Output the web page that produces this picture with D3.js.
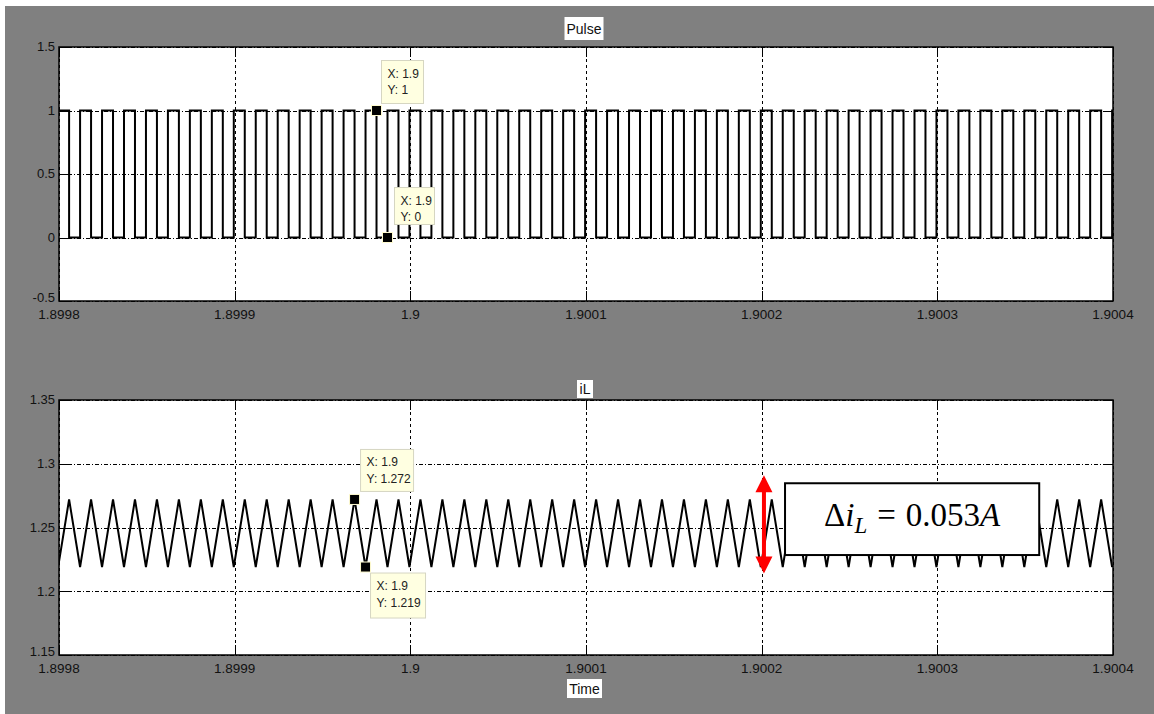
<!DOCTYPE html>
<html>
<head>
<meta charset="utf-8">
<script src="https://cdn.jsdelivr.net/npm/d3@7"></script>
<style>
  html, body { margin: 0; padding: 0; background: #fff; }
  svg { display: block; }
</style>
</head>
<body>
<div id="chart"></div>
<script>
// ── Data (times in µs after 1.8998 s) ──
const T0 = 1.8998;
const xTicks      = [1.8998, 1.8999, 1.9, 1.9001, 1.9002, 1.9003, 1.9004];
const xTickLabels = ["1.8998", "1.8999", "1.9", "1.9001", "1.9002", "1.9003", "1.9004"];
const pulseTicks  = [-0.5, 0, 0.5, 1, 1.5];
const pulseLabels = ["-0.5", "0", "0.5", "1", "1.5"];
const iLTicks     = [1.15, 1.2, 1.25, 1.3, 1.35];
const iLLabels    = ["1.15", "1.2", "1.25", "1.3", "1.35"];

// switch-on instants (pulse rises, inductor current at its valley)
const riseUs = [-0.5, 12, 24.5, 37, 49.5, 62, 74.5, 87, 99.5, 112, 124.5, 137, 149.5,
  162, 174.5, 187, 199.5, 212, 224.5, 237, 249.5, 262, 274.5, 287, 299.5, 312, 324.5,
  337, 349.5, 362, 374.5, 387, 399.5, 412, 424.5, 437, 449.5, 462, 474.5, 487, 499.5,
  512, 524.5, 537, 549.5, 562, 574.5, 587, 599.5];
// switch-off instants (pulse falls, inductor current at its peak)
const fallUs = [5.75, 18.25, 30.75, 43.25, 55.75, 68.25, 80.75, 93.25, 105.75, 118.25,
  130.75, 143.25, 155.75, 168.25, 180.75, 193.25, 205.75, 218.25, 230.75, 243.25,
  255.75, 268.25, 280.75, 293.25, 305.75, 318.25, 330.75, 343.25, 355.75, 368.25,
  380.75, 393.25, 405.75, 418.25, 430.75, 443.25, 455.75, 468.25, 480.75, 493.25,
  505.75, 518.25, 530.75, 543.25, 555.75, 568.25, 580.75, 593.25];
const iLPeak   = 1.272;
const iLValley = 1.219;

// data tips: [time µs, value, text lines]
const pulseTips = [
  { t: 180.75, v: 1, lines: ["X: 1.9", "Y: 1"] },
  { t: 187,    v: 0, lines: ["X: 1.9", "Y: 0"] }
];
const iLTips = [
  { t: 168.25, v: 1.272, lines: ["X: 1.9", "Y: 1.272"] },
  { t: 174.5,  v: 1.219, lines: ["X: 1.9", "Y: 1.219"] }
];

// ripple annotation (data units)
const rippleArrow = { t: 401.3, top: 1.291, bottom: 1.214 };
const rippleBox   = { t0: 413.3, t1: 558, top: 1.2847, bottom: 1.2284 };

// ── Layout ──
const W = 1154, H = 714;
const PLOT_L = 59, PLOT_R = 1113;
const TOP1 = 47, BOT1 = 301;
const TOP2 = 400, BOT2 = 655;
const TICK = 10;
const FONT = "'Liberation Sans', Arial, sans-serif";

const svg = d3.select("#chart").append("svg")
  .attr("width", W).attr("height", H);

svg.append("rect")
  .attr("x", 5).attr("y", 6)
  .attr("width", W - 5).attr("height", H - 6)
  .attr("fill", "#808080");

const x = d3.scaleLinear().domain([T0, 1.9004]).range([PLOT_L, PLOT_R]);
const tx = us => T0 + us * 1e-6;

const yPulse = d3.scaleLinear().domain([-0.5, 1.5]).range([BOT1, TOP1]);
const yIL    = d3.scaleLinear().domain([1.15, 1.35]).range([BOT2, TOP2]);

function drawPanel(id, y, ticks, top, bottom) {
  const g = svg.append("g").attr("class", "panel-" + id);

  g.append("rect")
    .attr("x", PLOT_L).attr("y", top)
    .attr("width", PLOT_R - PLOT_L).attr("height", bottom - top)
    .attr("fill", "#fff");

  // grid
  g.selectAll("line.vgrid")
    .data(xTicks)
    .join("line")
    .attr("x1", d => Math.round(x(d)) + 0.5).attr("x2", d => Math.round(x(d)) + 0.5)
    .attr("y1", top).attr("y2", bottom)
    .attr("stroke", "#000").attr("stroke-width", 1)
    .attr("stroke-dasharray", "3,3");

  g.selectAll("line.hgrid")
    .data(ticks)
    .join("line")
    .attr("x1", PLOT_L).attr("x2", PLOT_R)
    .attr("y1", d => Math.round(y(d)) + 0.5).attr("y2", d => Math.round(y(d)) + 0.5)
    .attr("stroke", "#000").attr("stroke-width", 1)
    .attr("stroke-dasharray", "4,2,1,2");

  return g;
}

function drawFrame(g, y, ticks, labels, top, bottom) {
  // ticks on all four sides, pointing inwards
  xTicks.forEach(d => {
    const px = Math.round(x(d)) + 0.5;
    g.append("line").attr("x1", px).attr("x2", px)
      .attr("y1", bottom).attr("y2", bottom - TICK).attr("stroke", "#000");
    g.append("line").attr("x1", px).attr("x2", px)
      .attr("y1", top).attr("y2", top + TICK).attr("stroke", "#000");
  });
  ticks.forEach(d => {
    const py = Math.round(y(d)) + 0.5;
    g.append("line").attr("x1", PLOT_L).attr("x2", PLOT_L + TICK)
      .attr("y1", py).attr("y2", py).attr("stroke", "#000");
    g.append("line").attr("x1", PLOT_R).attr("x2", PLOT_R - TICK)
      .attr("y1", py).attr("y2", py).attr("stroke", "#000");
  });

  g.append("rect")
    .attr("x", PLOT_L).attr("y", top)
    .attr("width", PLOT_R - PLOT_L).attr("height", bottom - top)
    .attr("fill", "none").attr("stroke", "#000").attr("stroke-width", 1.5);

  // lowest label sits a little higher so it clears the time labels
  g.selectAll("text.ylab")
    .data(ticks)
    .join("text")
    .attr("x", PLOT_L - 4)
    .attr("y", (d, i) => y(d) - (i === 0 ? 3 : 0))
    .attr("dy", "0.34em")
    .style("font-family", FONT).style("font-size", "13px")
    .style("fill", "#111").style("text-anchor", "end")
    .text((d, i) => labels[i]);

  g.selectAll("text.xlab")
    .data(xTicks)
    .join("text")
    .attr("x", d => x(d))
    .attr("y", bottom + 18)
    .style("font-family", FONT).style("font-size", "13.5px")
    .style("fill", "#111").style("text-anchor", "middle")
    .text((d, i) => xTickLabels[i]);
}

function boxedLabel(text, cx, top, w, h) {
  svg.append("rect")
    .attr("x", cx - w / 2).attr("y", top)
    .attr("width", w).attr("height", h)
    .attr("fill", "#fff");
  svg.append("text")
    .attr("x", cx).attr("y", top + h / 2)
    .attr("dy", "0.36em")
    .style("font-family", FONT).style("font-size", "14px")
    .style("fill", "#111").style("text-anchor", "middle")
    .text(text);
}

function dataTip(g, tip, y, dx, dy, w, h) {
  const px = x(tx(tip.t)), py = y(tip.v);
  g.append("rect")
    .attr("x", px + dx).attr("y", py + dy)
    .attr("width", w).attr("height", h)
    .attr("fill", "#ffffe1").attr("stroke", "#d6d6c2");
  tip.lines.forEach((s, i) => {
    g.append("text")
      .attr("x", px + dx + 6).attr("y", py + dy + 17 + i * 16.5)
      .style("font-family", FONT).style("font-size", "12px")
      .style("fill", "#222")
      .text(s);
  });
  g.append("rect")
    .attr("x", px - 5).attr("y", py - 5)
    .attr("width", 10).attr("height", 10)
    .attr("fill", "#000").attr("stroke", "#fffbd0").attr("stroke-width", 1);
}

// clip paths
const defs = svg.append("defs");
[["clip1", TOP1, BOT1], ["clip2", TOP2, BOT2]].forEach(([id, t, b]) => {
  defs.append("clipPath").attr("id", id)
    .append("rect").attr("x", PLOT_L).attr("y", t)
    .attr("width", PLOT_R - PLOT_L).attr("height", b - t);
});

// ── Pulse panel ──
const g1 = drawPanel("pulse", yPulse, pulseTicks, TOP1, BOT1);

const pulsePts = [];
riseUs.forEach((r, i) => {
  pulsePts.push({ t: r, v: 1 });
  if (i < fallUs.length) pulsePts.push({ t: fallUs[i], v: 0 });
});
pulsePts.push({ t: 600, v: 1 });

g1.append("path")
  .datum(pulsePts)
  .attr("clip-path", "url(#clip1)")
  .attr("fill", "none").attr("stroke", "#000").attr("stroke-width", 2)
  .attr("d", d3.line().curve(d3.curveStepAfter)
    .x(d => x(tx(d.t))).y(d => yPulse(d.v)));

drawFrame(g1, yPulse, pulseTicks, pulseLabels, TOP1, BOT1);

// ── iL panel ──
const g2 = drawPanel("il", yIL, iLTicks, TOP2, BOT2);

const iLPts = [];
riseUs.forEach((r, i) => {
  iLPts.push({ t: r, v: iLValley });
  if (i < fallUs.length) iLPts.push({ t: fallUs[i], v: iLPeak });
});

g2.append("path")
  .datum(iLPts)
  .attr("clip-path", "url(#clip2)")
  .attr("fill", "none").attr("stroke", "#000").attr("stroke-width", 2)
  .attr("stroke-linejoin", "miter")
  .attr("d", d3.line().x(d => x(tx(d.t))).y(d => yIL(d.v)));

drawFrame(g2, yIL, iLTicks, iLLabels, TOP2, BOT2);

// titles
boxedLabel("Pulse", 584, 17, 39, 23);
boxedLabel("iL", 585, 380, 16, 18);
boxedLabel("Time", 584.5, 679, 35, 19);

// data tips
const tipG = svg.append("g").attr("class", "tips");
dataTip(tipG, pulseTips[0], yPulse, 5, -50, 42, 43);
dataTip(tipG, pulseTips[1], yPulse, 7, -50, 40, 37);
dataTip(tipG, iLTips[0], yIL, 6, -50, 53, 42);
dataTip(tipG, iLTips[1], yIL, 5, 6, 55, 45);

// ── Ripple annotation ──
const ann = svg.append("g").attr("class", "ripple");
const ax = x(tx(rippleArrow.t));
const aTop = yIL(rippleArrow.top), aBot = yIL(rippleArrow.bottom);
const headH = 17, headW = 17;
ann.append("line")
  .attr("x1", ax).attr("x2", ax)
  .attr("y1", aTop + headH - 2).attr("y2", aBot - headH + 2)
  .attr("stroke", "#ff0000").attr("stroke-width", 4);
ann.append("path")
  .attr("d", `M${ax},${aTop} L${ax - headW / 2},${aTop + headH} L${ax + headW / 2},${aTop + headH} Z`)
  .attr("fill", "#ff0000");
ann.append("path")
  .attr("d", `M${ax},${aBot} L${ax - headW / 2},${aBot - headH} L${ax + headW / 2},${aBot - headH} Z`)
  .attr("fill", "#ff0000");

const bx0 = x(tx(rippleBox.t0)), bx1 = x(tx(rippleBox.t1));
const by0 = yIL(rippleBox.top), by1 = yIL(rippleBox.bottom);
ann.append("rect")
  .attr("x", bx0).attr("y", by0)
  .attr("width", bx1 - bx0).attr("height", by1 - by0)
  .attr("fill", "#fff").attr("stroke", "#000").attr("stroke-width", 2);

const eq = ann.append("text")
  .attr("x", (bx0 + bx1) / 2)
  .attr("y", by0 + 43)
  .style("font-family", "'Liberation Serif', 'Times New Roman', serif")
  .style("font-size", "33px")
  .style("fill", "#000")
  .style("text-anchor", "middle");
eq.append("tspan").text("Δ");
eq.append("tspan").style("font-style", "italic").text("i");
eq.append("tspan").style("font-style", "italic").style("font-size", "23px")
  .attr("dy", 7).text("L");
eq.append("tspan").attr("dy", -7).attr("dx", 10).text("=");
eq.append("tspan").attr("dx", 10).text("0.053");
eq.append("tspan").style("font-style", "italic").text("A");
</script>
</body>
</html>
